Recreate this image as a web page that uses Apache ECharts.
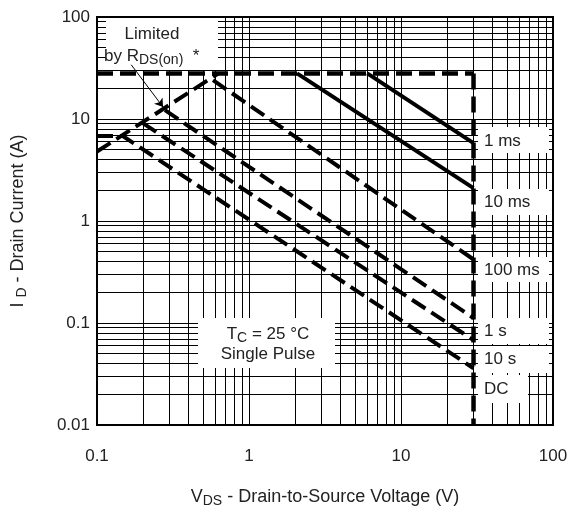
<!DOCTYPE html>
<html>
<head>
<meta charset="utf-8">
<script src="https://cdn.jsdelivr.net/npm/echarts@6/dist/echarts.min.js"></script>
<style>html,body{margin:0;padding:0;background:#fff}#c{width:573px;height:508px}</style>
</head>
<body>
<div id="c"></div>
<script>
// ---- data (V in volts, I in amps) ----
const xTickLabels = ['0.1', '1', '10', '100'];
const yTickLabels = ['0.01', '0.1', '1', '10', '100'];
const limitCurrent = [[0.1, 28], [30, 28]];
const limitVoltage = [[30, 28], [30, 0.01]];
const rdsOnLimit = [[0.1, 4.8], [0.63, 28]];
const pulse1ms = [[6.0, 28], [30, 5.8]];
const pulse10ms = [[2.07, 28], [30, 2.1]];
const pulse100ms = [[0.58, 24], [30, 0.42]];
const pulse1s = [[0.28, 12.2], [30, 0.112]];
const pulse10s = [[0.2, 9.1], [30, 0.068]];
const dcLine = [[0.1, 6.8], [0.148, 6.8], [30, 0.036]];
const arrowFrom = [0.168, 34];
const arrowTo = [0.272, 13.1];

// grid line values (decade multiples)
function decadeLines(lo, hi) {
  const out = [];
  for (let d = lo; d < hi; d++) {
    for (let m = 1; m <= 9; m++) out.push(+(m * Math.pow(10, d)).toPrecision(3));
  }
  out.push(Math.pow(10, hi));
  return out;
}
const xGrid = decadeLines(-1, 2);
const yGrid = decadeLines(-2, 2);

const FONT = 'Liberation Sans, Arial, Helvetica, sans-serif';
const TXT = '#222';

function curve(data, dashed, width) {
  return {
    type: 'line', data: data, showSymbol: false, symbol: 'none', silent: true, z: 10,
    lineStyle: { color: '#000', width: width || 4, type: dashed ? [16, 7] : 'solid', cap: 'butt', join: 'miter' },
    animation: false
  };
}

const chart = echarts.init(document.getElementById('c'), null, { renderer: 'canvas' });

function box(x, y, w, h) {
  return { type: 'rect', z: 5, silent: true, shape: { x: x, y: y, width: w, height: h }, style: { fill: '#fff' } };
}
function label(x, y, text, align, rich) {
  return {
    type: 'text', z: 6, silent: true, x: x, y: y,
    style: { text: text, fill: TXT, font: '17px ' + FONT, fontSize: 17, fontFamily: FONT, align: align || 'left', verticalAlign: 'middle', rich: rich }
  };
}
const subRich = {
  n: { fontSize: 17, fontFamily: FONT, color: TXT, lineHeight: 22 },
  s: { fontSize: 14, fontFamily: FONT, color: TXT, lineHeight: 22, padding: [9, 0, 0, 0] }
};

chart.setOption({
  animation: false,
  backgroundColor: '#fff',
  grid: { left: 97, right: 20, top: 17, bottom: 83, show: true, borderColor: '#000', borderWidth: 2, backgroundColor: 'transparent', containLabel: false, outerBoundsMode: 'none' },
  xAxis: {
    type: 'log', logBase: 10, min: 0.1, max: 100, splitNumber: 3,
    axisLine: { show: false }, axisTick: { show: false }, splitLine: { show: false }, minorSplitLine: { show: false },
    axisLabel: {
      margin: 23, color: TXT, fontSize: 17, fontFamily: FONT, showMinLabel: true, showMaxLabel: true,
      formatter: function (v) { const i = Math.round(Math.log10(v)) + 1; return xTickLabels[i] !== undefined ? xTickLabels[i] : ''; }
    },
    name: '{n|V}{s|DS}{n| - Drain-to-Source Voltage (V)}',
    nameLocation: 'middle', nameGap: 61,
    nameTextStyle: { rich: { n: { fontSize: 18, fontFamily: FONT, color: TXT, lineHeight: 22 }, s: { fontSize: 14, fontFamily: FONT, color: TXT, lineHeight: 22, padding: [9, 0, 0, 0] } } }
  },
  yAxis: {
    type: 'log', logBase: 10, min: 0.01, max: 100, splitNumber: 4,
    axisLine: { show: false }, axisTick: { show: false }, splitLine: { show: false }, minorSplitLine: { show: false },
    axisLabel: {
      margin: 7, color: TXT, fontSize: 17, fontFamily: FONT, showMinLabel: true, showMaxLabel: true,
      formatter: function (v) { const i = Math.round(Math.log10(v)) + 2; return yTickLabels[i] !== undefined ? yTickLabels[i] : ''; }
    },
    name: '{n|I }{s|D}{n| - Drain Current (A)}',
    nameLocation: 'middle', nameGap: 68, nameRotate: 90,
    nameTextStyle: { rich: { n: { fontSize: 18, fontFamily: FONT, color: TXT, lineHeight: 22 }, s: { fontSize: 14, fontFamily: FONT, color: TXT, lineHeight: 22, padding: [9, 0, 0, 0] } } }
  },
  series: [
    {
      type: 'line', data: [], silent: true, z: 1, showSymbol: false,
      markLine: {
        z: 1, silent: true, symbol: ['none', 'none'], animation: false, label: { show: false },
        lineStyle: { color: '#000', width: 1, type: 'solid' },
        emphasis: { disabled: true },
        data: xGrid.map(v => ({ xAxis: v })).concat(yGrid.map(v => ({ yAxis: v })))
      }
    },
    curve(limitCurrent, true, 4.5),
    curve(limitVoltage, true, 4.5),
    curve(rdsOnLimit, true, 4),
    curve(pulse1ms, false, 4),
    curve(pulse10ms, false, 4),
    curve(pulse100ms, true, 4),
    curve(pulse1s, true, 4),
    curve(pulse10s, true, 4),
    curve(dcLine, true, 4),
    {
      type: 'line', data: [], silent: true, z: 10, showSymbol: false,
      markLine: {
        z: 10, silent: true, symbol: ['none', 'arrow'], symbolSize: 8, animation: false, label: { show: false },
        lineStyle: { color: '#000', width: 1, type: 'solid' },
        emphasis: { disabled: true },
        data: [[{ coord: arrowFrom }, { coord: arrowTo }]]
      }
    }
  ],
  graphic: [
    box(106, 18, 112, 52),
    label(152, 34, 'Limited', 'center'),
    label(104, 56, '{n|by R}{s|DS(on)}{n|  *}', 'left', subRich),
    box(478, 127, 71, 26), label(484, 141, '1 ms'),
    box(478, 189, 71, 26), label(484, 202, '10 ms'),
    box(478, 257, 71, 25), label(484, 270, '100 ms'),
    box(478, 318, 71, 26), label(484, 331, '1 s'),
    box(478, 346, 71, 27), label(484, 359, '10 s'),
    box(478, 375, 50, 28), label(484, 389, 'DC'),
    box(198, 318, 137, 50),
    label(268, 334, '{n|T}{s|C}{n| = 25 °C}', 'center', subRich),
    label(268, 354, 'Single Pulse', 'center')
  ]
});
</script>
</body>
</html>
